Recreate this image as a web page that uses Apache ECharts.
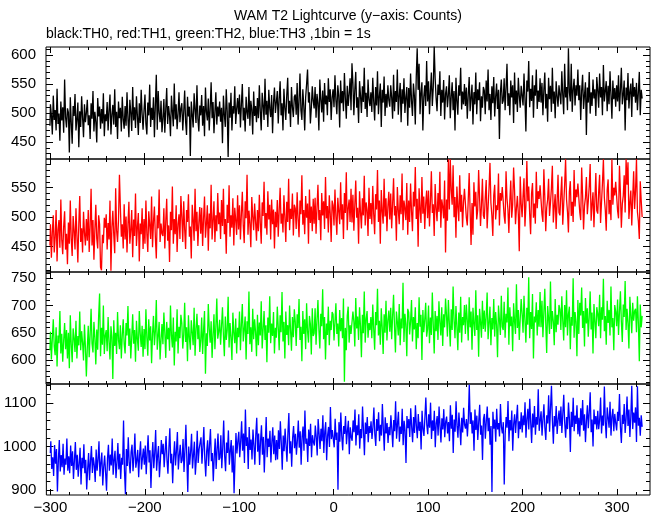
<!DOCTYPE html>
<html><head><meta charset="utf-8">
<script src="https://cdn.jsdelivr.net/npm/echarts@6/dist/echarts.min.js"></script>
<style>html,body{margin:0;padding:0;background:#fff}#c{width:652px;height:515px}</style>
</head><body><div id="c"></div>
<script>
// time bins: 1 bin = 1 s, first bin at -300 s
const T_START = -300;
const BIN = 1;

// TH0 (black) counts per 1 s bin, -300 .. 327
const th0 = [
478,515,496,463,530,488,505,470,542,481,499,452,520,487,510,466,558,493,475,508,
501,432,527,484,447,512,495,533,470,489,518,441,503,476,529,492,458,515,484,500,
523,479,496,455,517,490,538,468,502,485,449,526,494,511,473,507,482,534,460,498,
486,519,470,505,532,463,497,514,480,541,476,502,455,520,491,509,468,528,489,473,
512,478,536,490,458,523,501,469,545,487,510,474,529,495,462,517,483,540,498,471,
505,532,481,463,518,496,549,476,509,488,527,458,514,566,471,538,500,484,521,467,
490,524,466,507,543,481,512,495,460,530,503,477,551,489,515,472,499,536,484,508,
517,470,502,539,485,462,528,494,511,426,520,497,475,534,506,483,548,490,468,513,
496,531,478,512,460,544,502,487,525,470,508,553,491,519,465,502,536,480,511,494,
520,485,509,448,530,497,476,541,503,424,518,492,535,470,512,499,546,481,507,526,
498,532,475,515,550,487,509,468,528,501,490,545,478,521,506,463,537,495,512,484,
526,491,548,503,470,535,512,488,559,497,521,476,540,508,493,531,465,518,544,500,
503,538,482,524,555,496,517,470,542,509,488,530,561,499,521,476,545,510,493,528,
532,497,552,480,520,568,505,488,541,513,470,527,550,575,518,536,482,509,546,521,
508,545,492,533,517,470,558,524,501,539,485,552,515,530,496,560,519,541,488,527,
541,510,565,522,498,548,530,475,556,517,538,503,569,526,490,547,512,533,560,505,
586,552,496,540,571,509,527,483,555,531,500,546,519,578,507,535,493,558,524,512,
536,502,561,520,487,545,513,572,498,529,551,476,540,518,563,495,533,509,548,522,
511,548,527,490,566,503,538,519,575,497,530,552,484,541,516,560,500,527,545,478,
543,509,568,521,495,551,530,480,562,612,540,585,498,535,553,470,528,548,512,590,
520,555,498,537,570,512,544,615,560,526,503,549,531,572,495,540,518,557,489,533,
546,510,532,565,491,528,553,505,538,470,561,521,497,548,530,578,506,537,515,550,
512,544,490,531,562,503,527,549,480,536,515,570,498,541,522,553,486,529,509,545,
539,498,556,520,575,505,533,488,546,517,562,494,528,551,507,540,455,535,558,516,
521,560,505,543,585,512,534,496,556,527,548,483,570,515,539,502,561,530,509,547,
545,513,568,525,468,556,537,590,510,542,521,565,492,548,530,575,507,539,519,560,
518,552,496,540,570,508,533,485,561,524,547,502,578,516,537,491,555,529,511,548,
550,515,572,531,498,585,527,545,505,612,536,520,585,502,541,559,513,548,530,575,
522,548,488,539,566,507,531,553,462,544,518,571,499,536,512,558,525,541,495,562,
540,509,568,527,545,496,583,520,538,555,503,547,515,572,531,490,556,524,543,511,
548,520,565,503,539,578,515,532,556,470,544,522,569,508,537,551,493,560,528,545,
518,552,505,536,571,496,540,525
];

// TH1 (red)
const th1 = [
452,488,431,475,503,440,466,512,425,479,495,448,530,461,437,484,510,445,472,420,
491,455,528,463,434,502,477,445,515,469,423,488,536,458,481,440,509,473,452,497,
460,512,441,486,548,452,495,428,478,521,464,447,503,488,415,410,470,456,499,482,
505,445,490,462,528,409,483,511,470,439,549,478,458,495,572,516,467,488,447,522,
462,501,440,487,526,455,478,512,432,496,468,540,451,483,507,425,489,471,515,446,
497,455,528,472,441,510,486,463,535,449,492,518,466,430,503,481,547,458,489,472,
468,515,447,493,531,460,486,424,509,478,552,455,497,471,520,441,488,505,463,536,
501,458,527,480,446,512,492,539,467,484,430,521,495,460,548,476,509,451,490,517,
472,516,451,498,535,465,489,520,443,506,481,555,462,494,527,458,503,476,541,488,
508,463,529,485,548,471,497,438,521,490,554,467,503,482,532,452,516,495,470,537,
479,520,462,505,543,486,456,527,498,572,470,511,489,449,534,501,478,523,493,460,
512,476,538,490,455,525,502,560,481,507,470,544,496,521,462,530,488,513,447,509,
483,529,467,511,550,489,506,474,537,500,458,526,492,565,478,514,497,540,469,521,
515,480,542,497,466,528,505,571,487,512,471,536,499,523,455,547,490,518,476,531,
489,533,472,516,555,495,512,461,541,503,527,480,568,498,519,474,537,506,458,528,
520,486,547,501,470,533,510,488,559,496,522,463,541,507,576,478,515,530,492,548,
491,538,477,520,562,499,516,455,544,509,481,532,503,570,486,525,512,468,550,497,
524,488,553,505,471,539,513,580,492,528,455,546,510,489,565,501,532,476,518,543,
496,540,481,522,566,503,519,460,551,512,488,537,505,574,478,528,515,495,558,470,
528,492,557,510,476,543,518,585,497,531,450,549,514,490,568,506,535,480,522,545,
498,545,484,526,578,507,522,468,556,515,493,541,509,577,482,530,518,498,562,440,
530,494,598,513,598,546,521,588,500,534,465,552,517,493,571,509,538,483,525,548,
547,499,486,529,575,510,453,524,470,559,518,543,496,512,580,533,485,520,565,503,
497,533,563,481,516,549,592,524,503,468,537,555,496,520,512,574,486,541,528,551,
550,502,489,578,532,513,473,527,562,499,521,584,546,488,515,536,505,442,569,523,
500,536,566,484,519,595,527,552,506,471,540,558,499,523,489,577,515,544,531,554,
553,505,492,581,535,476,516,530,565,502,524,549,587,491,518,539,480,526,572,508,
503,539,569,487,522,555,598,530,509,474,543,561,502,526,492,580,518,547,534,557,
556,508,495,584,538,479,519,533,568,505,527,552,590,494,521,542,483,529,575,511,
506,542,572,490,525,558,598,533,512,477,546,564,505,529,495,598,521,550,537,560,
559,511,498,587,541,482,522,536,571,508,598,555,593,497,524,545,486,532,578,514,
545,598,509,493,463,561,528,500
];

// TH2 (green)
const th2 = [
618,652,601,640,675,625,609,660,588,645,631,690,612,648,597,636,668,620,655,603,
650,585,682,629,596,658,640,615,672,603,644,627,689,618,653,632,599,665,624,570,
622,663,605,647,694,630,614,670,641,592,656,619,681,722,607,659,628,700,611,645,
655,616,679,633,601,662,642,565,673,626,650,611,688,637,620,664,603,646,675,629,
612,668,645,699,626,658,603,641,684,630,655,597,672,638,617,690,648,624,663,606,
657,620,693,641,608,675,636,662,594,648,681,627,653,710,619,644,670,601,637,666,
629,687,651,604,670,638,659,617,700,645,623,678,590,652,634,693,612,661,640,683,
668,621,647,705,633,660,598,682,641,619,673,650,627,696,608,657,685,638,664,615,
636,678,611,655,690,575,649,626,703,658,632,671,604,646,684,620,661,713,639,652,
674,628,662,697,645,607,680,637,655,716,623,668,641,600,687,650,631,676,612,659,
642,689,618,665,703,634,657,680,601,671,648,726,629,660,615,694,638,675,652,607,
683,627,669,645,708,621,656,690,637,664,596,678,650,717,631,667,644,688,612,659,
641,698,660,618,682,651,725,634,670,603,689,646,664,627,700,655,617,679,642,693,
670,626,684,659,712,637,661,598,690,648,675,620,704,653,632,681,666,610,695,644,
649,695,628,673,710,656,621,685,662,730,638,679,601,667,646,698,627,672,655,688,
684,636,670,704,648,667,625,692,653,677,640,713,560,659,618,681,698,632,664,648,
646,689,671,625,714,658,680,637,697,662,605,683,649,726,632,675,690,641,668,655,
679,640,702,657,619,688,664,731,645,672,628,695,660,611,684,650,709,636,673,691,
652,696,638,681,720,661,614,689,670,645,703,627,676,658,742,633,685,666,607,694,
688,647,671,710,634,679,656,697,620,668,640,715,661,683,600,692,651,674,705,643,
657,700,631,678,646,724,665,612,690,653,681,637,708,669,645,697,626,684,660,713,
682,643,710,668,625,693,655,735,672,640,699,661,618,687,650,716,632,679,664,701,
648,702,673,636,715,660,689,619,696,667,644,728,655,682,606,694,670,641,709,657,
691,652,680,724,638,669,698,627,677,656,712,643,688,665,605,700,674,646,718,661,
655,707,641,685,669,733,628,697,662,680,616,704,671,648,739,659,692,637,676,712,
684,650,718,673,632,696,665,752,640,688,657,721,603,680,669,706,645,692,661,725,
660,709,642,687,731,668,613,699,676,648,744,657,690,671,627,712,651,683,665,701,
693,655,717,672,636,701,660,728,645,684,698,620,679,663,750,641,688,670,607,710,
648,705,682,733,659,690,625,714,667,695,643,679,726,656,687,612,703,672,640,697,
685,662,720,640,697,674,749,653,681,628,709,668,692,645,735,660,677,618,701,689,
662,711,646,688,726,670,633,702,679,745,655,694,667,621,716,683,649,705,672,690,
694,651,717,668,598,702,660,681
];

// TH3 (blue)
const th3 = [
985,1012,948,975,932,1003,960,994,896,968,1015,942,980,952,1006,935,972,958,1018,944,
977,938,1002,955,989,925,968,1010,946,981,930,961,997,912,974,950,1005,938,969,901,
948,985,922,966,1001,939,975,957,918,993,944,970,1012,931,962,986,910,953,979,940,
898,972,1004,944,981,956,1018,935,969,990,927,962,1008,947,983,925,974,958,1060,943,
890,994,955,1021,962,938,987,1004,943,976,1030,951,968,992,929,980,1012,947,973,995,
958,1002,936,984,1026,963,991,904,972,1010,950,985,1038,944,978,1001,929,967,1015,982,
1006,952,989,1024,968,937,996,1042,961,983,915,975,1012,956,990,1033,947,979,1004,962,
968,1017,941,992,1050,973,895,1000,958,987,1029,949,981,1011,935,970,1036,962,994,1008,
1021,960,998,1045,972,931,989,1014,955,1003,1040,966,985,920,976,1018,948,992,1030,969,
974,1026,950,997,1060,979,943,1009,985,1037,958,990,1015,940,1002,892,968,1031,984,1012,
1034,975,1012,1058,990,1030,962,1085,1001,1021,948,1045,992,1016,970,1039,1003,958,1027,1066,
988,1030,957,1012,1049,981,1022,940,1005,1068,975,1018,999,1036,963,1010,1044,982,1025,968,
1015,970,1037,994,1058,1008,946,1025,989,1041,1002,965,1031,1077,984,1012,953,1020,1047,996,
1029,981,1014,1060,997,1035,958,1022,1046,990,1083,1006,1018,964,1039,1001,1052,975,1026,1010,
1002,1048,1021,979,1063,1030,994,1041,1012,1072,985,1034,1056,968,1025,1045,999,1091,1017,1038,
1040,998,1064,1015,1032,900,1056,1011,1078,1024,991,1047,1029,1070,1005,1036,1059,982,1044,1021,
1013,1060,1033,1085,1002,1049,1026,1074,995,1040,1019,1092,1036,980,1055,1029,1068,1010,1047,1031,
1058,1017,1045,1090,1028,1001,1063,1036,1079,1012,1050,1025,1098,1041,990,1067,1030,1054,1008,1045,
1026,1072,1040,998,1061,1035,1104,1018,1052,1080,1011,1046,1029,1087,1003,1059,1037,962,1070,1042,
1063,1022,1088,1045,1010,1068,1031,1095,1047,1019,1075,1036,1057,993,1082,1040,1024,1066,1113,1050,
1028,1074,1043,1101,1017,1060,1036,1082,998,1053,1070,1025,1092,1048,1009,1065,1039,1086,1021,1057,
1069,1030,1056,1012,1095,1041,1073,985,1062,1034,1104,1048,1020,1078,1045,1003,1066,1032,1089,1050,
1041,1063,1023,1064,1142,1052,1079,1030,1060,990,1085,1038,1071,1015,1057,1096,1027,1048,969,1063,
1075,1018,1058,1092,1035,1066,1004,1047,895,1080,1041,1062,1011,1087,1039,1054,1023,1098,1045,1030,
1056,912,1028,1068,1043,1105,1012,1061,1037,1083,990,1052,1074,1031,1066,1096,1019,1058,1040,1079,
1032,1071,1049,1102,1020,1063,1087,1039,1110,1055,1008,1076,1044,1093,1027,1068,1050,1132,1036,1060,
1081,1025,1064,1097,1043,1015,1072,1053,1118,1034,1089,1140,1058,1006,1070,1046,1093,1029,1061,1083,
1047,1092,1031,1075,1119,1054,1020,1068,1040,1101,1063,987,1080,1045,1112,1035,1071,1052,1095,1028,
1066,1023,1088,1049,1107,1036,1074,1010,1059,1095,1042,1079,1125,1033,1062,1000,1085,1051,1070,1039,
1082,1040,1061,1113,1030,1071,1048,1138,1057,1019,1090,1066,1043,1103,1025,1069,1087,1035,1075,1054,
1037,1080,1059,1121,1044,1008,1073,1052,1098,1031,1064,1115,1047,1085,1022,1069,1140,1040,1078,1055,
1090,1010,1139,1048,1066,1025,1072,1045
];

// tick labels
const xTicksMajor = [-300, -200, -100, 0, 100, 200, 300];
const xTicksMinor = [-300,-280,-260,-240,-220,-200,-180,-160,-140,-120,-100,-80,-60,-40,-20,0,20,40,60,80,100,120,140,160,180,200,220,240,260,280,300,320];
const yTicksMajor = [[450,500,550,600],[450,500,550],[600,650,700,750],[900,1000,1100]];
const yMinorStart = [430, 410, 560, 900];
const yMinorEnd = [610, 590, 760, 1140];
const yMinorStep = [10, 10, 10, 20];

const TITLE = 'WAM T2 Lightcurve (y\u2212axis: Counts)';
const SUBTITLE = 'black:TH0, red:TH1, green:TH2, blue:TH3 ,1bin = 1s';

// layout / style
const X_MIN = -304.2, X_MAX = 334.8;
const yRange = [[420.6, 614], [407, 598.6], [556, 761.6], [888, 1144]];
const tops = [47, 159, 272, 384];
const heights = [112, 113, 112, 112];
const colors = ['#000000', '#ff0000', '#00ff00', '#0000ff'];
const series_data = [th0, th1, th2, th3];
const FONT = '"Liberation Sans", Arial, Helvetica, sans-serif';

const grids = [], xAxes = [], yAxes = [], series = [];
const minus = v => String(v).replace('-', '\u2212');
const plain = v => String(v);

for (let i = 0; i < 4; i++) {
  grids.push({left: 46, right: 2, top: tops[i], height: heights[i], show: true,
    borderColor: '#000', borderWidth: 1, backgroundColor: 'transparent'});
  const yMinor = [];
  for (let v = yMinorStart[i]; v <= yMinorEnd[i]; v += yMinorStep[i]) yMinor.push(v);
  const xa = (pos, vals, len, lab) => ({
    type: 'value', gridIndex: i, position: pos, min: X_MIN, max: X_MAX,
    axisLine: {show: false, onZero: false}, splitLine: {show: false},
    axisTick: {show: true, inside: true, length: len, customValues: vals, lineStyle: {color: '#000', width: 1}},
    axisLabel: {show: lab, customValues: vals, formatter: minus, color: '#000', fontSize: 15, fontFamily: FONT, margin: 5}
  });
  xAxes.push(xa('bottom', xTicksMajor, 6, i === 3));
  xAxes.push(xa('bottom', xTicksMinor, 3, false));
  xAxes.push(xa('top', xTicksMajor, 6, false));
  xAxes.push(xa('top', xTicksMinor, 3, false));
  const ya = (pos, vals, len, lab) => ({
    type: 'value', gridIndex: i, position: pos, min: yRange[i][0], max: yRange[i][1],
    axisLine: {show: false, onZero: false}, splitLine: {show: false},
    axisTick: {show: true, inside: true, length: len, customValues: vals, lineStyle: {color: '#000', width: 1}},
    axisLabel: {show: lab, customValues: vals, formatter: plain, color: '#000', fontSize: 15, fontFamily: FONT, margin: 10}
  });
  yAxes.push(ya('left', yTicksMajor[i], 7, true));
  yAxes.push(ya('left', yMinor, 4, false));
  yAxes.push(ya('right', yTicksMajor[i], 7, false));
  yAxes.push(ya('right', yMinor, 4, false));
  series.push({
    type: 'line', xAxisIndex: 4 * i, yAxisIndex: 4 * i,
    data: series_data[i].map((v, k) => [T_START + k * BIN, v]),
    step: 'middle', showSymbol: false, symbol: 'none', silent: true,
    lineStyle: {width: 1.3, color: colors[i]}, itemStyle: {color: colors[i]}, z: 1
  });
}

const chart = echarts.init(document.getElementById('c'), null, {renderer: 'canvas'});
chart.setOption({
  animation: false,
  backgroundColor: '#fff',
  title: [
    {text: TITLE, left: 348, top: 9, textAlign: 'center', padding: 0,
     textStyle: {fontSize: 14, fontWeight: 'normal', color: '#000', fontFamily: FONT}},
    {text: SUBTITLE, left: 46, top: 27, padding: 0,
     textStyle: {fontSize: 14, fontWeight: 'normal', color: '#000', fontFamily: FONT}}
  ],
  grid: grids, xAxis: xAxes, yAxis: yAxes, series: series
});
</script></body></html>
